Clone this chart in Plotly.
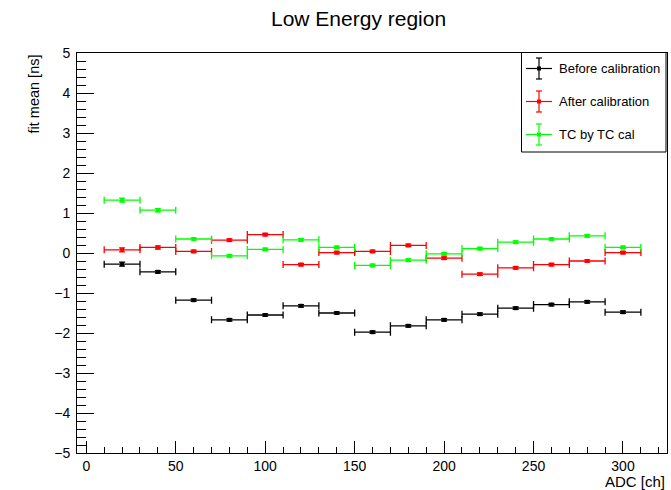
import plotly.graph_objects as go

# ---- data ----
adc = [20, 40, 60, 80, 100, 120, 140, 160, 180, 200, 220, 240, 260, 280, 300]
adc_err = [10] * 15
before = [-0.28, -0.47, -1.18, -1.67, -1.55, -1.32, -1.50, -1.98, -1.82, -1.67, -1.53, -1.38, -1.29, -1.22, -1.48]
before_err = [0.05, 0.03, 0.03, 0.03, 0.03, 0.03, 0.03, 0.03, 0.03, 0.03, 0.03, 0.03, 0.03, 0.03, 0.03]
after = [0.08, 0.14, 0.04, 0.32, 0.46, -0.29, 0.01, 0.04, 0.19, -0.13, -0.53, -0.37, -0.29, -0.20, 0.01]
after_err = [0.05, 0.04, 0.03, 0.03, 0.03, 0.03, 0.03, 0.03, 0.03, 0.03, 0.03, 0.03, 0.03, 0.03, 0.03]
tctc = [1.32, 1.07, 0.35, -0.07, 0.09, 0.33, 0.14, -0.31, -0.18, -0.02, 0.11, 0.27, 0.35, 0.43, 0.14]
tctc_err = [0.05, 0.04, 0.03, 0.03, 0.03, 0.03, 0.03, 0.03, 0.03, 0.03, 0.03, 0.03, 0.03, 0.03, 0.03]

names = ["Before calibration", "After calibration", "TC by TC cal"]
colors = ["#000000", "#ff0000", "#00ff00"]
series = [(before, before_err), (after, after_err), (tctc, tctc_err)]

W, H = 671, 490
ML, MR, MT, MB = 77, 4, 53, 37
PW, PH = W - ML - MR, H - MT - MB

def px(x):
    return (x - ML) / PW

def py(y):
    return (H - MB - y) / PH

FONT = "Liberation Sans, Arial, sans-serif"

fig = go.Figure()
for (vals, errs), name, col in zip(series, names, colors):
    fig.add_trace(go.Scatter(
        x=adc, y=vals, mode="markers", name=name,
        marker=dict(symbol="square", size=4, color=col),
        error_x=dict(type="data", array=adc_err, color=col, thickness=1.3, width=3.5),
        error_y=dict(type="data", array=errs, color=col, thickness=1.3, width=3),
        showlegend=False,
    ))

shapes = []
annotations = []
# legend box
shapes.append(dict(type="rect", xref="paper", yref="paper",
                   x0=px(521.5), x1=px(666), y0=py(152), y1=py(52.5),
                   line=dict(color="black", width=1), fillcolor="white", layer="above"))
for i, (name, col) in enumerate(zip(names, colors)):
    yc = [68.5, 101.5, 134.5][i]
    xc = 539
    shapes.append(dict(type="line", xref="paper", yref="paper",
                       x0=px(526), x1=px(552), y0=py(yc), y1=py(yc),
                       line=dict(color=col, width=1.2), layer="above"))
    shapes.append(dict(type="line", xref="paper", yref="paper",
                       x0=px(xc), x1=px(xc), y0=py(yc - 10.5), y1=py(yc + 10.5),
                       line=dict(color=col, width=1.2), layer="above"))
    for yy in (yc - 10.5, yc + 10.5):
        shapes.append(dict(type="line", xref="paper", yref="paper",
                           x0=px(xc - 3), x1=px(xc + 3), y0=py(yy), y1=py(yy),
                           line=dict(color=col, width=1.2), layer="above"))
    shapes.append(dict(type="rect", xref="paper", yref="paper",
                       x0=px(xc - 2), x1=px(xc + 2), y0=py(yc + 2), y1=py(yc - 2),
                       line=dict(width=0), fillcolor=col, layer="above"))
    annotations.append(dict(text=name, xref="paper", yref="paper",
                            x=px(557), y=py(yc), xanchor="left", yanchor="middle",
                            showarrow=False, font=dict(family=FONT, size=13, color="black")))

annotations.append(dict(text="Low Energy region", xref="paper", yref="paper",
                        x=px(358), y=py(18), xanchor="center", yanchor="middle",
                        showarrow=False, font=dict(family=FONT, size=21, color="black")))
annotations.append(dict(text="ADC [ch]", xref="paper", yref="paper",
                        x=px(667), y=py(481), xanchor="right", yanchor="middle",
                        showarrow=False, font=dict(family=FONT, size=15, color="black")))
annotations.append(dict(text="fit mean [ns]", xref="paper", yref="paper",
                        x=px(33), y=py(53), xanchor="center", yanchor="top", textangle=-90,
                        showarrow=False, font=dict(family=FONT, size=14.5, color="black")))

fig.update_layout(
    width=W, height=H,
    margin=dict(l=ML, r=MR, t=MT, b=MB, pad=0),
    paper_bgcolor="white", plot_bgcolor="white",
    shapes=shapes, annotations=annotations,
    showlegend=False,
    font=dict(family=FONT, size=14, color="black"),
)
fig.update_xaxes(
    range=[-5.2, 324.6], showgrid=False, zeroline=False,
    showline=True, linecolor="black", linewidth=1, mirror=True,
    ticks="inside", ticklen=12, tickwidth=1, tickcolor="black",
    tick0=0, dtick=50,
    minor=dict(ticks="inside", ticklen=6, dtick=10, tick0=0, tickcolor="black", showgrid=False),
    tickfont=dict(family=FONT, size=14), ticklabelstandoff=0,
)
fig.update_yaxes(
    range=[-5, 5], showgrid=False, zeroline=False,
    showline=True, linecolor="black", linewidth=1, mirror=True,
    ticks="inside", ticklen=17, tickwidth=1, tickcolor="black",
    tick0=0, dtick=1,
    minor=dict(ticks="inside", ticklen=9, dtick=0.2, tick0=0, tickcolor="black", showgrid=False),
    tickfont=dict(family=FONT, size=14), ticklabelstandoff=3,
)

fig.write_html("out.html")
